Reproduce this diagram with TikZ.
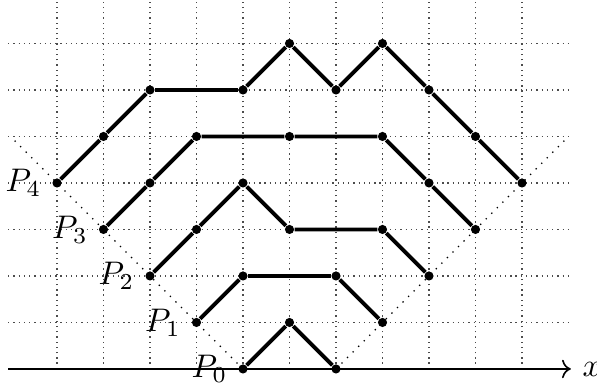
\documentclass[tikz,border=0pt]{standalone}
\usepackage{tikz}
\usetikzlibrary{arrows.meta, positioning}
\tikzset{
  gridline/.style={line width=0.4pt, dash pattern=on 0.4pt off 1.2pt, draw=black!70},
  diagline/.style={line width=0.4pt, dash pattern=on 0.4pt off 2pt, draw=black},
  axisline/.style={->, line width=0.5pt},
  pathline/.style={line width=1.2pt, line join=round},
  ptdot/.style={circle, fill=black, inner sep=0pt, minimum size=2.8pt},
  plabel/.style={inner sep=3pt},
}

\begin{document}
\begin{tikzpicture}[x=0.5cm, y=0.5cm]
\useasboundingbox (-5.226,-0.452) rectangle (7.613,7.935);

% ---- dotted grid ----
\foreach \y in {1,...,7}
  \draw[gridline] (-5.05,\y) -- (7.05,\y);
\foreach \x in {-4,...,6}
  \draw[gridline] (\x,0) -- (\x,7.935);

% ---- x axis ----
\coordinate (axl) at (-5.05,0);
\coordinate (axr) at (7.05,0);
\draw[axisline] (axl) -- (axr) node[right] (xlab) {$x$};

% ---- points of the paths ----
\node[ptdot] (p0a) at (0,0) {};  \node[ptdot] (p0b) at (1,1) {};  \node[ptdot] (p0c) at (2,0) {};

\node[ptdot] (p1a) at (-1,1) {}; \node[ptdot] (p1b) at (0,2) {};  \node[ptdot] (p1c) at (2,2) {};
\node[ptdot] (p1d) at (3,1) {};

\node[ptdot] (p2a) at (-2,2) {}; \node[ptdot] (p2b) at (-1,3) {}; \node[ptdot] (p2c) at (0,4) {};
\node[ptdot] (p2d) at (1,3) {};  \node[ptdot] (p2e) at (3,3) {};  \node[ptdot] (p2f) at (4,2) {};

\node[ptdot] (p3a) at (-3,3) {}; \node[ptdot] (p3b) at (-2,4) {}; \node[ptdot] (p3c) at (-1,5) {};
\node[ptdot] (p3d) at (1,5) {};  \node[ptdot] (p3e) at (3,5) {};  \node[ptdot] (p3f) at (4,4) {};
\node[ptdot] (p3g) at (5,3) {};

\node[ptdot] (p4a) at (-4,4) {}; \node[ptdot] (p4b) at (-3,5) {}; \node[ptdot] (p4c) at (-2,6) {};
\node[ptdot] (p4d) at (0,6) {};  \node[ptdot] (p4e) at (1,7) {};  \node[ptdot] (p4f) at (2,6) {};
\node[ptdot] (p4g) at (3,7) {};  \node[ptdot] (p4h) at (4,6) {};  \node[ptdot] (p4i) at (5,5) {};
\node[ptdot] (p4j) at (6,4) {};

% ---- dotted diagonals through the end points ----
\coordinate (dl) at (-5,5);
\coordinate (dr) at (7,5);
\draw[diagline] (p0a.center) -- (dl);
\draw[diagline] (p0c.center) -- (dr);

% ---- the paths ----
\draw[pathline] (p0a) -- (p0b) -- (p0c);
\draw[pathline] (p1a) -- (p1b) -- (p1c) -- (p1d);
\draw[pathline] (p2a) -- (p2b) -- (p2c) -- (p2d) -- (p2e) -- (p2f);
\draw[pathline] (p3a) -- (p3b) -- (p3c) -- (p3d) -- (p3e) -- (p3f) -- (p3g);
\draw[pathline] (p4a) -- (p4b) -- (p4c) -- (p4d) -- (p4e) -- (p4f) -- (p4g) -- (p4h) -- (p4i) -- (p4j);

% ---- labels ----
\node[plabel, left=0pt of p0a] (lp0) {$P_0$};
\node[plabel, left=0pt of p1a] (lp1) {$P_1$};
\node[plabel, left=0pt of p2a] (lp2) {$P_2$};
\node[plabel, left=0pt of p3a] (lp3) {$P_3$};
\node[plabel, left=0pt of p4a] (lp4) {$P_4$};

\end{tikzpicture}
\end{document}
